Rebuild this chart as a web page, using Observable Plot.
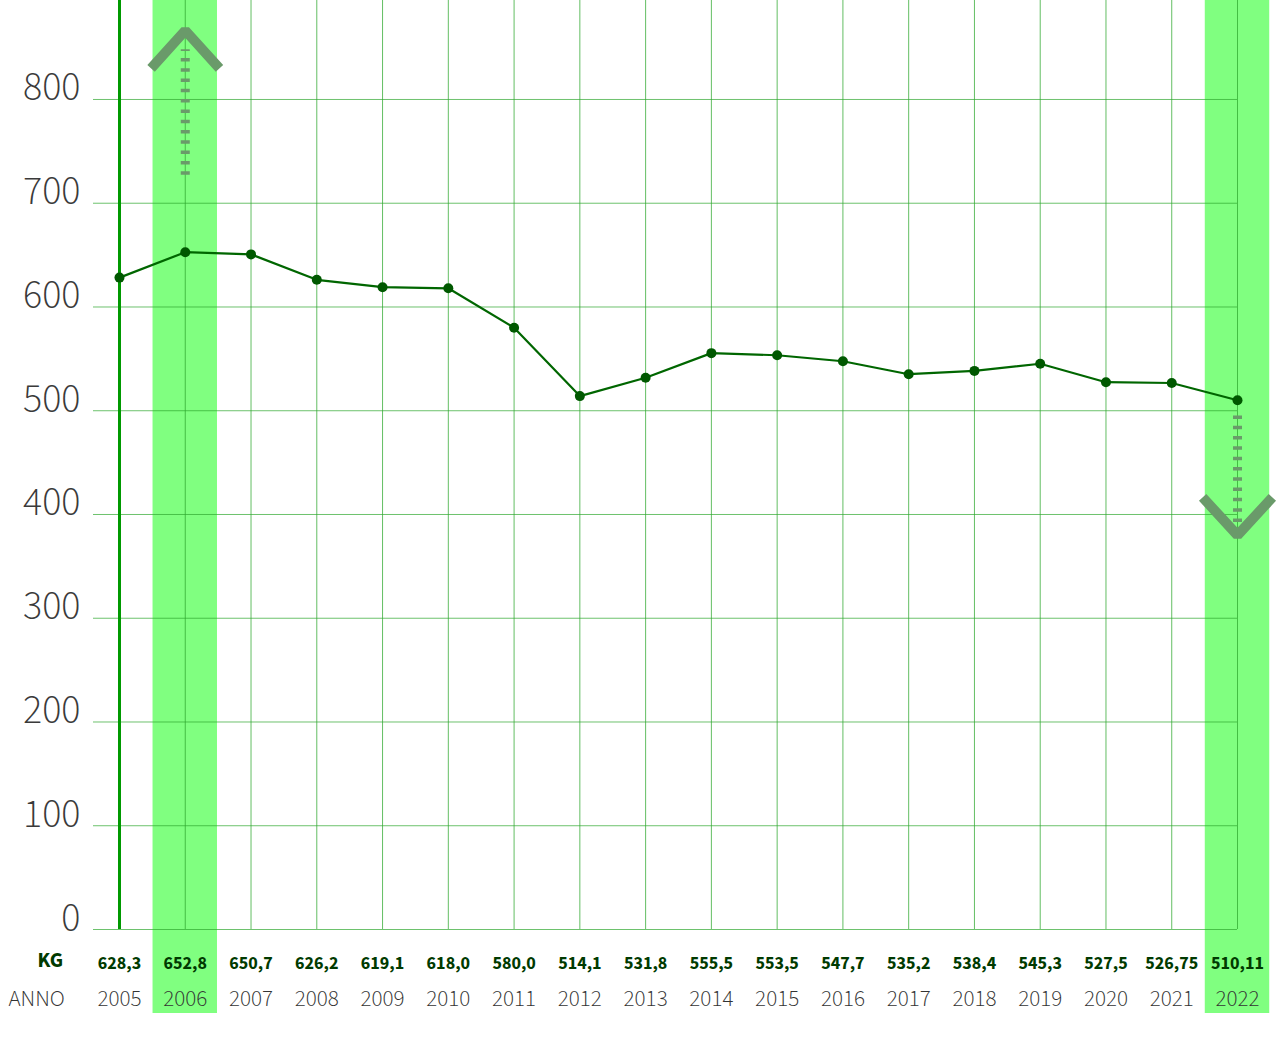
<!DOCTYPE html>
<html><head><meta charset="utf-8">
<script src="https://cdn.jsdelivr.net/npm/d3@7"></script>
<script src="https://cdn.jsdelivr.net/npm/@observablehq/plot@0.6"></script>
<style>body{margin:0;background:#fff} svg{display:block}</style>
</head><body><div id="chart"></div>
<script>
const years = [2005,2006,2007,2008,2009,2010,2011,2012,2013,2014,2015,2016,2017,2018,2019,2020,2021,2022];
const kg = [628.3,652.8,650.7,626.2,619.1,618.0,580.0,514.1,531.8,555.5,553.5,547.7,535.2,538.4,545.3,527.5,526.75,510.11];
const kgLabels = ["628,3","652,8","650,7","626,2","619,1","618,0","580,0","514,1","531,8","555,5","553,5","547,7","535,2","538,4","545,3","527,5","526,75","510,11"];
const yearLabels = years.map(String);
const yTicks = [0,100,200,300,400,500,600,700,800];
const yMax = 895.4;
const highlightYears = [2006, 2022];
// decorative arrows (data space): dashed shaft and chevron
const arrowUp = {year: 2006, shaftFrom: 727, shaftTo: 848, tip: 866.5, wing: 830, half: 0.52};
const arrowDown = {year: 2022, shaftFrom: 495, shaftTo: 389, tip: 380, wing: 416.5, half: 0.53};

const data = years.map((y, i) => ({year: y, kg: kg[i], label: kgLabels[i], ylabel: yearLabels[i]}));
const chevron = a => [
  {x: a.year - a.half, y: a.wing},
  {x: a.year, y: a.tip},
  {x: a.year + a.half, y: a.wing}
];
const arrows = [arrowUp, arrowDown];
const arrowColor = "#6a9a6a";
const font = "'Source Sans 3','Source Sans Pro',Lato,'Noto Sans',sans-serif";

const chart = Plot.plot({
  width: 1281,
  height: 1038,
  marginLeft: 119,
  marginRight: 44,
  marginTop: 0,
  marginBottom: 109,
  style: {fontFamily: font, background: "#fff", overflow: "visible"},
  x: {type: "linear", domain: [2005, 2022], axis: null},
  y: {domain: [0, yMax], axis: null},
  marks: [
    Plot.rect(highlightYears, {x1: d => d - 0.49, x2: d => d + 0.49, y1: 0, y2: yMax, insetBottom: -84, fill: "#80ff80"}),
    Plot.ruleX(years, {x: d => d, y1: 0, y2: yMax, stroke: "#2fa82f", strokeOpacity: 0.75, strokeWidth: 1}),
    Plot.ruleY(yTicks, {y: d => d, x1: 2005, x2: 2022, insetLeft: -26, stroke: "#2fa82f", strokeOpacity: 0.7, strokeWidth: 1}),
    Plot.text(yTicks, {y: d => d, text: d => String(d), frameAnchor: "left", dx: -39, dy: 1, textAnchor: "end", lineAnchor: "bottom", fontSize: 40, fontWeight: 300, fill: "#3a3a3a"}),
    Plot.ruleX(arrows, {x: d => d.year, y1: d => d.shaftFrom, y2: d => d.shaftTo, stroke: arrowColor, strokeWidth: 9, strokeDasharray: "3.5,6.8"}),
    Plot.line(chevron(arrowUp), {x: "x", y: "y", stroke: arrowColor, strokeWidth: 10, strokeLinejoin: "miter", strokeLinecap: "butt", curve: "linear"}),
    Plot.line(chevron(arrowDown), {x: "x", y: "y", stroke: arrowColor, strokeWidth: 10, strokeLinejoin: "miter", strokeLinecap: "butt", curve: "linear"}),
    Plot.ruleX([2005], {x: d => d, y1: 0, y2: yMax, stroke: "#009900", strokeWidth: 3}),
    Plot.line(data, {x: "year", y: "kg", stroke: "#006600", strokeWidth: 2.2}),
    Plot.dot(data, {x: "year", y: "kg", r: 5, fill: "#005800", stroke: "none"}),
    Plot.text(data, {x: "year", text: "label", frameAnchor: "bottom", dy: 39, fontSize: 18, fontWeight: "bold", fill: "#003a00"}),
    Plot.text(data, {x: "year", text: "ylabel", frameAnchor: "bottom", dy: 76, fontSize: 23, fontWeight: 300, fill: "#333"}),
    Plot.text(["KG"], {text: d => d, frameAnchor: "bottom-left", dx: -82, dy: 37, textAnchor: "start", fontSize: 21, fontWeight: "bold", fill: "#003a00"}),
    Plot.text(["ANNO"], {text: d => d, frameAnchor: "bottom-left", dx: -111, dy: 76, textAnchor: "start", fontSize: 23, fontWeight: 300, fill: "#333"})
  ]
});
document.getElementById("chart").appendChild(chart);
</script>
</body></html>
